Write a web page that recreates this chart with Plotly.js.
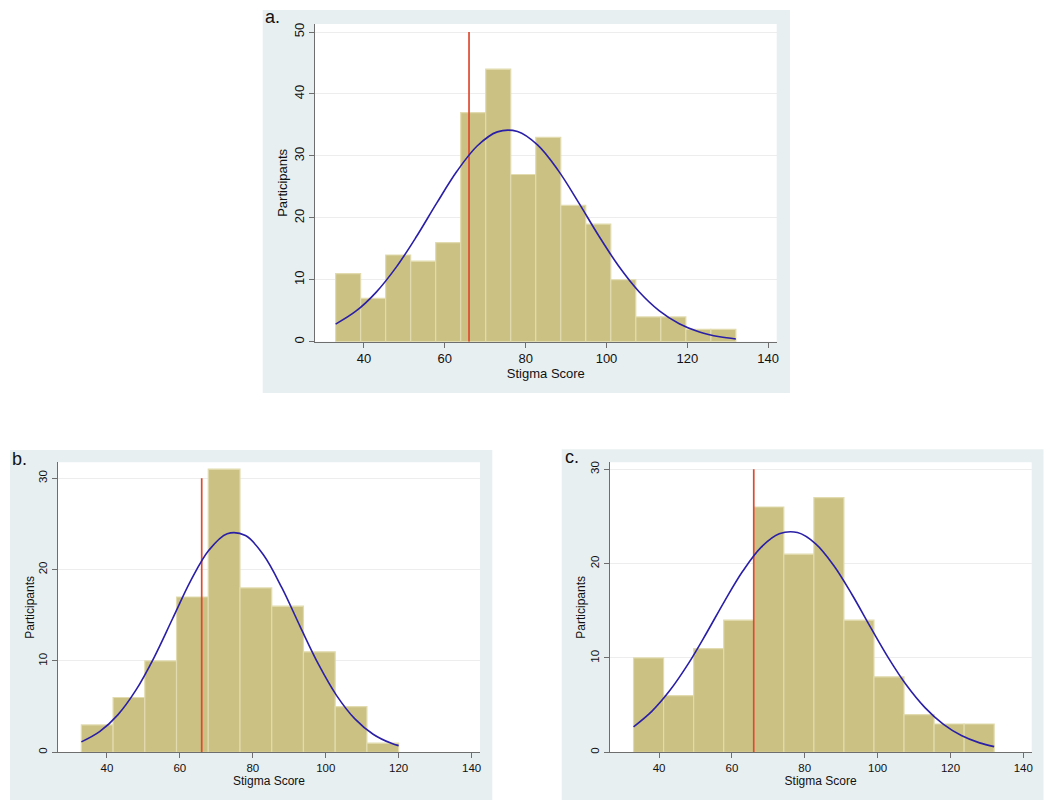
<!DOCTYPE html>
<html>
<head>
<meta charset="utf-8">
<script src="https://cdn.plot.ly/plotly-3.0.1.min.js"></script>
<style>html,body{margin:0;padding:0;background:#fff;}#chart{width:1050px;height:810px;}</style>
</head>
<body>
<div id="chart"></div>
<script>
// ---------- data ----------
const xTickVals = [40, 60, 80, 100, 120, 140];
const cutoffScore = 66;

// panel a
const countsA = [11, 7, 14, 13, 16, 37, 44, 27, 33, 22, 19, 10, 4, 4, 2, 2];
const binStartA = 33;
const binWidthA = 6.1875;
const normXA = [33, 38, 43, 48, 53, 58, 63, 68, 73, 78, 83, 88, 93, 98, 103, 108, 113, 118, 123, 128, 132];
const normYA = [2.84, 4.92, 7.97, 12.04, 16.98, 22.37, 27.51, 31.60, 33.88, 33.93, 31.73, 27.70, 22.59, 17.19, 12.22, 8.11, 5.03, 2.91, 1.57, 0.79, 0.44];
const cutoffTopA = 50;
const yTicksA = [0, 10, 20, 30, 40, 50];

// panel b
const countsB = [3, 6, 10, 17, 31, 18, 16, 11, 5, 1];
const binStartB = 33;
const binWidthB = 8.7;
const normXB = [33, 38, 43, 48, 53, 58, 63, 68, 73, 78, 83, 88, 93, 98, 103, 108, 113, 118, 120];
const normYB = [1.14, 2.26, 4.10, 6.83, 10.43, 14.62, 18.79, 22.14, 23.93, 23.73, 21.57, 17.99, 13.76, 9.65, 6.21, 3.66, 1.98, 0.98, 0.73];
const cutoffTopB = 30;
const yTicksB = [0, 10, 20, 30];

// panel c
const countsC = [10, 6, 11, 14, 26, 21, 27, 14, 8, 4, 3, 3];
const binStartC = 33;
const binWidthC = 8.25;
const normXC = [33, 38, 43, 48, 53, 58, 63, 68, 73, 78, 83, 88, 93, 98, 103, 108, 113, 118, 123, 128, 132];
const normYC = [2.70, 4.34, 6.57, 9.37, 12.62, 16.03, 19.21, 21.72, 23.16, 23.29, 22.10, 19.78, 16.70, 13.30, 9.99, 7.08, 4.74, 2.99, 1.78, 1.00, 0.60];
const cutoffTopC = 30;
const yTicksC = [0, 10, 20, 30];

const panelLabels = ['a.', 'b.', 'c.'];
const xTitle = 'Stigma Score';
const yTitle = 'Participants';

// ---------- styles ----------
const W = 1050, H = 810;
const FONT = 'Liberation Sans, Arial, Helvetica, sans-serif';
const BAR_FILL = '#cac183';
const BAR_EDGE = '#e2dbb0';
const CURVE = '#2a1fa6';
const RED = '#de4a30';
const AXIS = '#6e6e6e';
const GRID = '#ededed';
const REGION = '#e8eff1';

function centers(start, width, counts) {
  return counts.map((_, i) => start + width * (i + 0.5));
}

const panels = [
  {counts: countsA, start: binStartA, width: binWidthA, nx: normXA, ny: normYA, top: cutoffTopA, yt: yTicksA,
   xr: [27.9, 142.1], yr: [0, 51.3], px: [315, 776.7], py: [24, 341.7], reg: [262.7, 10, 790, 393],
   tickSize: 13, titleSize: 13, label: [263, 17], xStand: 0, yStand: 1},
  {counts: countsB, start: binStartB, width: binWidthB, nx: normXB, ny: normYB, top: cutoffTopB, yt: yTicksB,
   xr: [26.6, 142.3], yr: [0, 31.75], px: [58, 480], py: [462.3, 752.3], reg: [10, 450, 492.3, 800],
   tickSize: 11.5, titleSize: 12, label: [10, 459], xStand: 2, yStand: 0},
  {counts: countsC, start: binStartC, width: binWidthC, nx: normXC, ny: normYC, top: cutoffTopC, yt: yTicksC,
   xr: [26.4, 142.3], yr: [0, 30.74], px: [609.5, 1031.7], py: [462.3, 752.3], reg: [561.7, 449.3, 1043.5, 800],
   tickSize: 11.5, titleSize: 12, label: [563, 457], xStand: 2, yStand: 0}
];

const traces = [];
const layout = {
  width: W, height: H,
  margin: {l: 0, r: 0, t: 0, b: 0},
  paper_bgcolor: '#ffffff',
  plot_bgcolor: 'rgba(0,0,0,0)',
  showlegend: false,
  font: {family: FONT, color: '#111'},
  shapes: [],
  annotations: []
};

panels.forEach((p, i) => {
  const sx = i === 0 ? '' : String(i + 1);
  const xa = 'x' + sx, ya = 'y' + sx;
  traces.push({
    type: 'bar', xaxis: xa, yaxis: ya,
    x: centers(p.start, p.width, p.counts), y: p.counts, width: p.width,
    marker: {color: BAR_FILL, line: {color: BAR_EDGE, width: 1.2}},
    hoverinfo: 'x+y'
  });
  traces.push({
    type: 'scatter', mode: 'lines', xaxis: xa, yaxis: ya,
    x: [cutoffScore, cutoffScore], y: [0, p.top],
    line: {color: RED, width: 1.7}
  });
  traces.push({
    type: 'scatter', mode: 'lines', xaxis: xa, yaxis: ya,
    x: p.nx, y: p.ny, line: {color: CURVE, width: 1.6, shape: 'spline', smoothing: 1}
  });

  layout['xaxis' + sx] = {
    anchor: ya,
    domain: [p.px[0] / W, p.px[1] / W],
    range: p.xr,
    tickvals: xTickVals,
    ticks: 'outside', ticklen: 5, tickcolor: AXIS, tickwidth: 1,
    showline: true, linecolor: AXIS, linewidth: 1,
    showgrid: false, zeroline: false,
    tickfont: {family: FONT, size: p.tickSize, color: '#111'},
    title: {text: xTitle, font: {family: FONT, size: p.titleSize, color: '#111'}, standoff: p.xStand},
    fixedrange: true
  };
  layout['yaxis' + sx] = {
    anchor: xa,
    domain: [1 - p.py[1] / H, 1 - p.py[0] / H],
    range: p.yr,
    tickvals: p.yt,
    tickangle: -90,
    ticks: 'outside', ticklen: 5, tickcolor: AXIS, tickwidth: 1,
    showline: true, linecolor: AXIS, linewidth: 1,
    showgrid: true, gridcolor: GRID, gridwidth: 1, zeroline: false,
    tickfont: {family: FONT, size: p.tickSize, color: '#111'},
    title: {text: yTitle, font: {family: FONT, size: p.titleSize, color: '#111'}, standoff: p.yStand},
    fixedrange: true
  };

  // graph region background
  layout.shapes.push({
    type: 'rect', xref: 'paper', yref: 'paper', layer: 'below',
    x0: p.reg[0] / W, x1: p.reg[2] / W, y0: 1 - p.reg[3] / H, y1: 1 - p.reg[1] / H,
    fillcolor: REGION, line: {width: 0}
  });
  // plot region (white)
  layout.shapes.push({
    type: 'rect', xref: 'paper', yref: 'paper', layer: 'below',
    x0: p.px[0] / W, x1: p.px[1] / W, y0: 1 - p.py[1] / H, y1: 1 - p.py[0] / H,
    fillcolor: '#ffffff', line: {width: 0}
  });

  layout.annotations.push({
    xref: 'paper', yref: 'paper', x: p.label[0] / W, y: 1 - p.label[1] / H,
    xanchor: 'left', yanchor: 'middle', showarrow: false,
    text: panelLabels[i], font: {family: FONT, size: 18, color: '#111'}
  });
});

Plotly.newPlot('chart', traces, layout, {displayModeBar: false, staticPlot: true});
</script>
</body>
</html>
